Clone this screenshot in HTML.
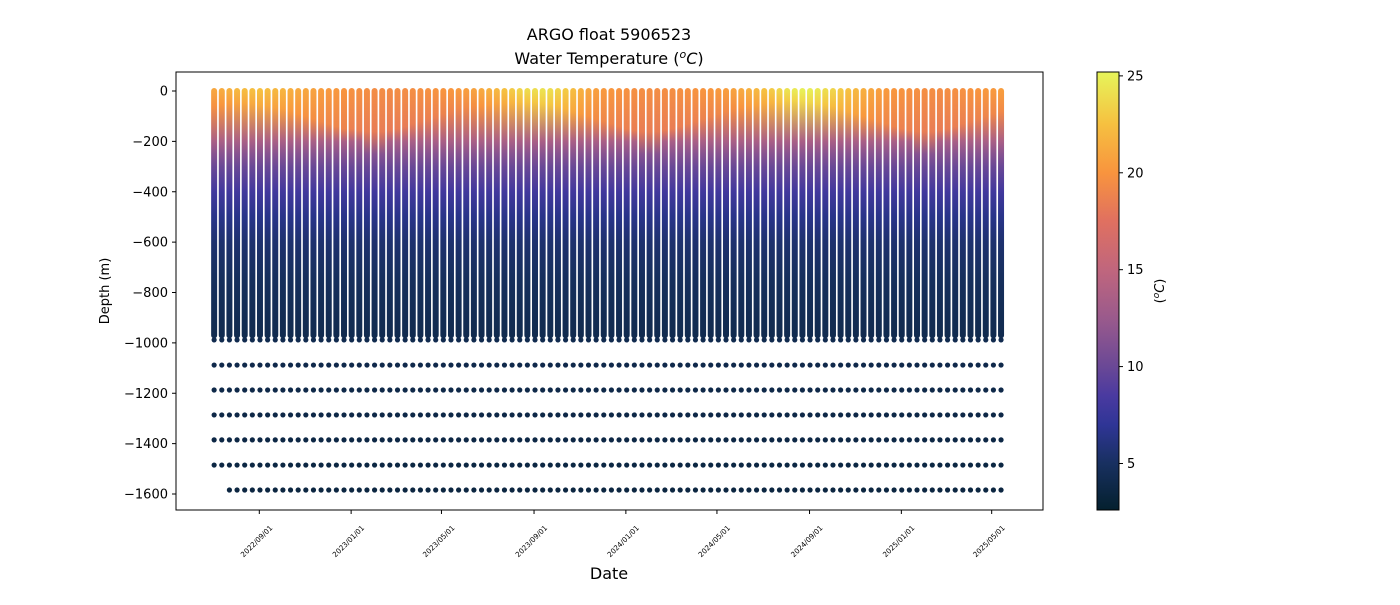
<!DOCTYPE html>
<html><head><meta charset="utf-8"><style>
body{margin:0;background:#fff;font-family:"Liberation Sans","DejaVu Sans",sans-serif;}
svg text{font-family:"DejaVu Sans","Liberation Sans",sans-serif;}
</style></head><body>
<svg id="chart" width="1400" height="600" viewBox="0 0 1400 600" xmlns="http://www.w3.org/2000/svg">
<defs id="defs"></defs>
<text x="609" y="40" text-anchor="middle" font-size="16">ARGO float 5906523</text>
<text x="609" y="64" text-anchor="middle" font-size="16">Water Temperature (<tspan font-style="italic" baseline-shift="super" font-size="11">o</tspan><tspan font-style="italic">C</tspan>)</text>
<text x="609" y="579" text-anchor="middle" font-size="16">Date</text>
<text transform="translate(109,291) rotate(-90)" text-anchor="middle" font-size="13">Depth (m)</text>
<text transform="translate(1164,291) rotate(-90)" text-anchor="middle" font-size="13">(<tspan font-style="italic" baseline-shift="super" font-size="9">o</tspan><tspan font-style="italic">C</tspan>)</text>
<g id="plot"></g>
<rect x="176" y="72" width="867" height="438" fill="none" stroke="#000" stroke-width="1"/>
<g id="cbar"></g>
</svg>
<script>
const sstValues=[21.0,21.3,21.6,22.0,22.2,22.4,22.5,22.3,22.0,21.8,21.5,21.2,21.0,20.8,20.5,20.3,20.2,20.0,19.8,19.7,19.6,19.5,19.5,19.4,19.5,19.5,19.6,19.7,19.8,19.9,20.0,20.1,20.3,20.5,20.8,21.2,21.6,
22.0,22.5,23.0,23.5,23.8,24.0,24.2,24.0,23.5,23.0,22.3,21.6,21.0,20.6,20.3,20.1,19.9,19.8,19.7,19.6,19.6,19.5,19.6,19.6,19.7,19.8,19.9,20.0,20.1,20.3,20.5,20.8,21.2,21.6,22.0,22.5,
23.0,23.6,24.2,24.6,24.9,24.8,24.5,24.0,23.5,23.0,22.5,22.0,21.5,21.0,20.6,20.3,20.1,19.9,19.8,19.7,19.6,19.6,19.5,19.6,19.7,19.8,19.9,20.0,20.2,20.3,20.5];
const mldValues=[60,55,50,50,50,50,55,60,65,70,80,90,100,110,120,130,140,150,150,155,160,160,160,155,150,140,130,120,110,100,90,80,70,65,60,60,55,
50,50,45,45,45,45,50,55,60,70,80,90,100,110,120,130,140,150,155,160,160,160,155,150,140,130,120,110,100,90,80,70,65,60,55,50,
45,45,40,40,40,45,50,55,60,70,80,90,100,110,120,130,140,150,155,160,160,160,155,150,140,130,120,110,100,90,80];
const firstProfileDate="2022-07-03";
const cycleDays=10.15;
const deepDepths=[988,1088,1187,1286,1385,1485,1584];
const deepTemps=[4.2,4.0,3.9,3.8,3.7,3.6,3.5];
const deepStartIndex=[0,0,0,0,0,0,2];
const baseProfileDepths=[200,250,300,400,500,600,750,970];
const baseProfileTemps=[13.5,11.5,10,8,6.5,5.5,4.8,4.2];
const yTicks=[0,-200,-400,-600,-800,-1000,-1200,-1400,-1600];
const xTickLabels=["2022/09/01","2023/01/01","2023/05/01","2023/09/01","2024/01/01","2024/05/01","2024/09/01","2025/01/01","2025/05/01"];
const cbarTicks=[5,10,15,20,25];

const NS="http://www.w3.org/2000/svg";
const ref=Date.UTC(2022,8,1);
function dayOf(s){const p=s.split(/[\/-]/).map(Number);return (Date.UTC(p[0],p[1]-1,p[2])-ref)/86400000;}
const xScale=d=>259.3+0.7527*d;
const yScale=v=>91-v*0.25188;
const cMin=2.6,cMax=25.2;
const cStops=[[2.6,[4,32,46]],[5,[24,48,96]],[7,[47,53,150]],[8.5,[74,58,160]],[10,[106,72,150]],[12.5,[154,90,140]],[15,[192,102,125]],[17.5,[224,112,96]],[20,[248,148,62]],[22.5,[246,192,64]],[25.2,[230,245,90]]];
function cmap(t){if(t<=cStops[0][0])return rgb(cStops[0][1]);for(let i=1;i<cStops.length;i++){if(t<=cStops[i][0]){const a=cStops[i-1],b=cStops[i];const f=(t-a[0])/(b[0]-a[0]);return rgb(a[1].map((v,k)=>v+(b[1][k]-v)*f));}}return rgb(cStops[cStops.length-1][1]);}
function rgb(c){return `rgb(${c.map(v=>Math.round(v)).join(',')})`;}
function el(tag,attrs,parent){const e=document.createElementNS(NS,tag);for(const k in attrs)e.setAttribute(k,attrs[k]);parent.appendChild(e);return e;}
const plot=document.getElementById('plot'),defs=document.getElementById('defs'),svg=document.getElementById('chart');
const d0=dayOf(firstProfileDate);
sstValues.forEach((sst,i)=>{
  const x=xScale(d0+i*cycleDays);
  const mld=mldValues[i];
  const depths=[0,mld],temps=[sst,sst-1.2];
  baseProfileDepths.forEach((d,k)=>{if(d>mld+40){depths.push(d);temps.push(baseProfileTemps[k]);}});
  const g=el('linearGradient',{id:'g'+i,gradientUnits:'userSpaceOnUse',x1:0,x2:0,y1:yScale(0),y2:yScale(-970)},defs);
  depths.forEach((d,k)=>{el('stop',{offset:(d/970).toFixed(4),'stop-color':cmap(temps[k])},g);});
  const r=el('rect',{x:x-3,y:yScale(0)-3,width:6,height:yScale(-970)-yScale(0)+6,rx:3,fill:`url(#g${i})`},plot);
  
  
  deepDepths.forEach((d,k)=>{
    if(i<deepStartIndex[k])return;
    const c=el('circle',{cx:x,cy:yScale(-d),r:2.6,fill:cmap(deepTemps[k])},plot);
    
    
  });
});
yTicks.forEach(v=>{
  const y=yScale(v);
  const t=el('line',{x1:172,x2:176,y1:y,y2:y,stroke:'#000'},svg);
  
  
  const tx=el('text',{x:168,y:y+4.5,'text-anchor':'end','font-size':13},svg);
  tx.textContent=v<0?'\u2212'+(-v):String(v);
  
  
});
xTickLabels.forEach(s=>{
  const x=xScale(dayOf(s));
  const t=el('line',{x1:x,x2:x,y1:510,y2:514,stroke:'#000'},svg);
  
  
  const tx=el('text',{transform:`translate(${x-1},${543}) rotate(-45)`,'text-anchor':'middle','font-size':7.2},svg);
  tx.textContent=s;
  
  
});
const cb=document.getElementById('cbar');
const cbY=t=>510-(t-cMin)/(cMax-cMin)*438;
const cg=el('linearGradient',{id:'cbg',x1:0,x2:0,y1:1,y2:0},defs);
cStops.forEach(s=>el('stop',{offset:((s[0]-cMin)/(cMax-cMin)).toFixed(4),'stop-color':rgb(s[1])},cg));
const cr=el('rect',{x:1097,y:72,width:22,height:438,fill:'url(#cbg)',stroke:'#000','stroke-width':1},cb);


cbarTicks.forEach(v=>{
  const y=cbY(v);
  const t=el('line',{x1:1119,x2:1123,y1:y,y2:y,stroke:'#000'},cb);
  
  
  const tx=el('text',{x:1127,y:y+4.5,'font-size':13},cb);
  tx.textContent=String(v);
  
  
});
</script>
</body></html>
